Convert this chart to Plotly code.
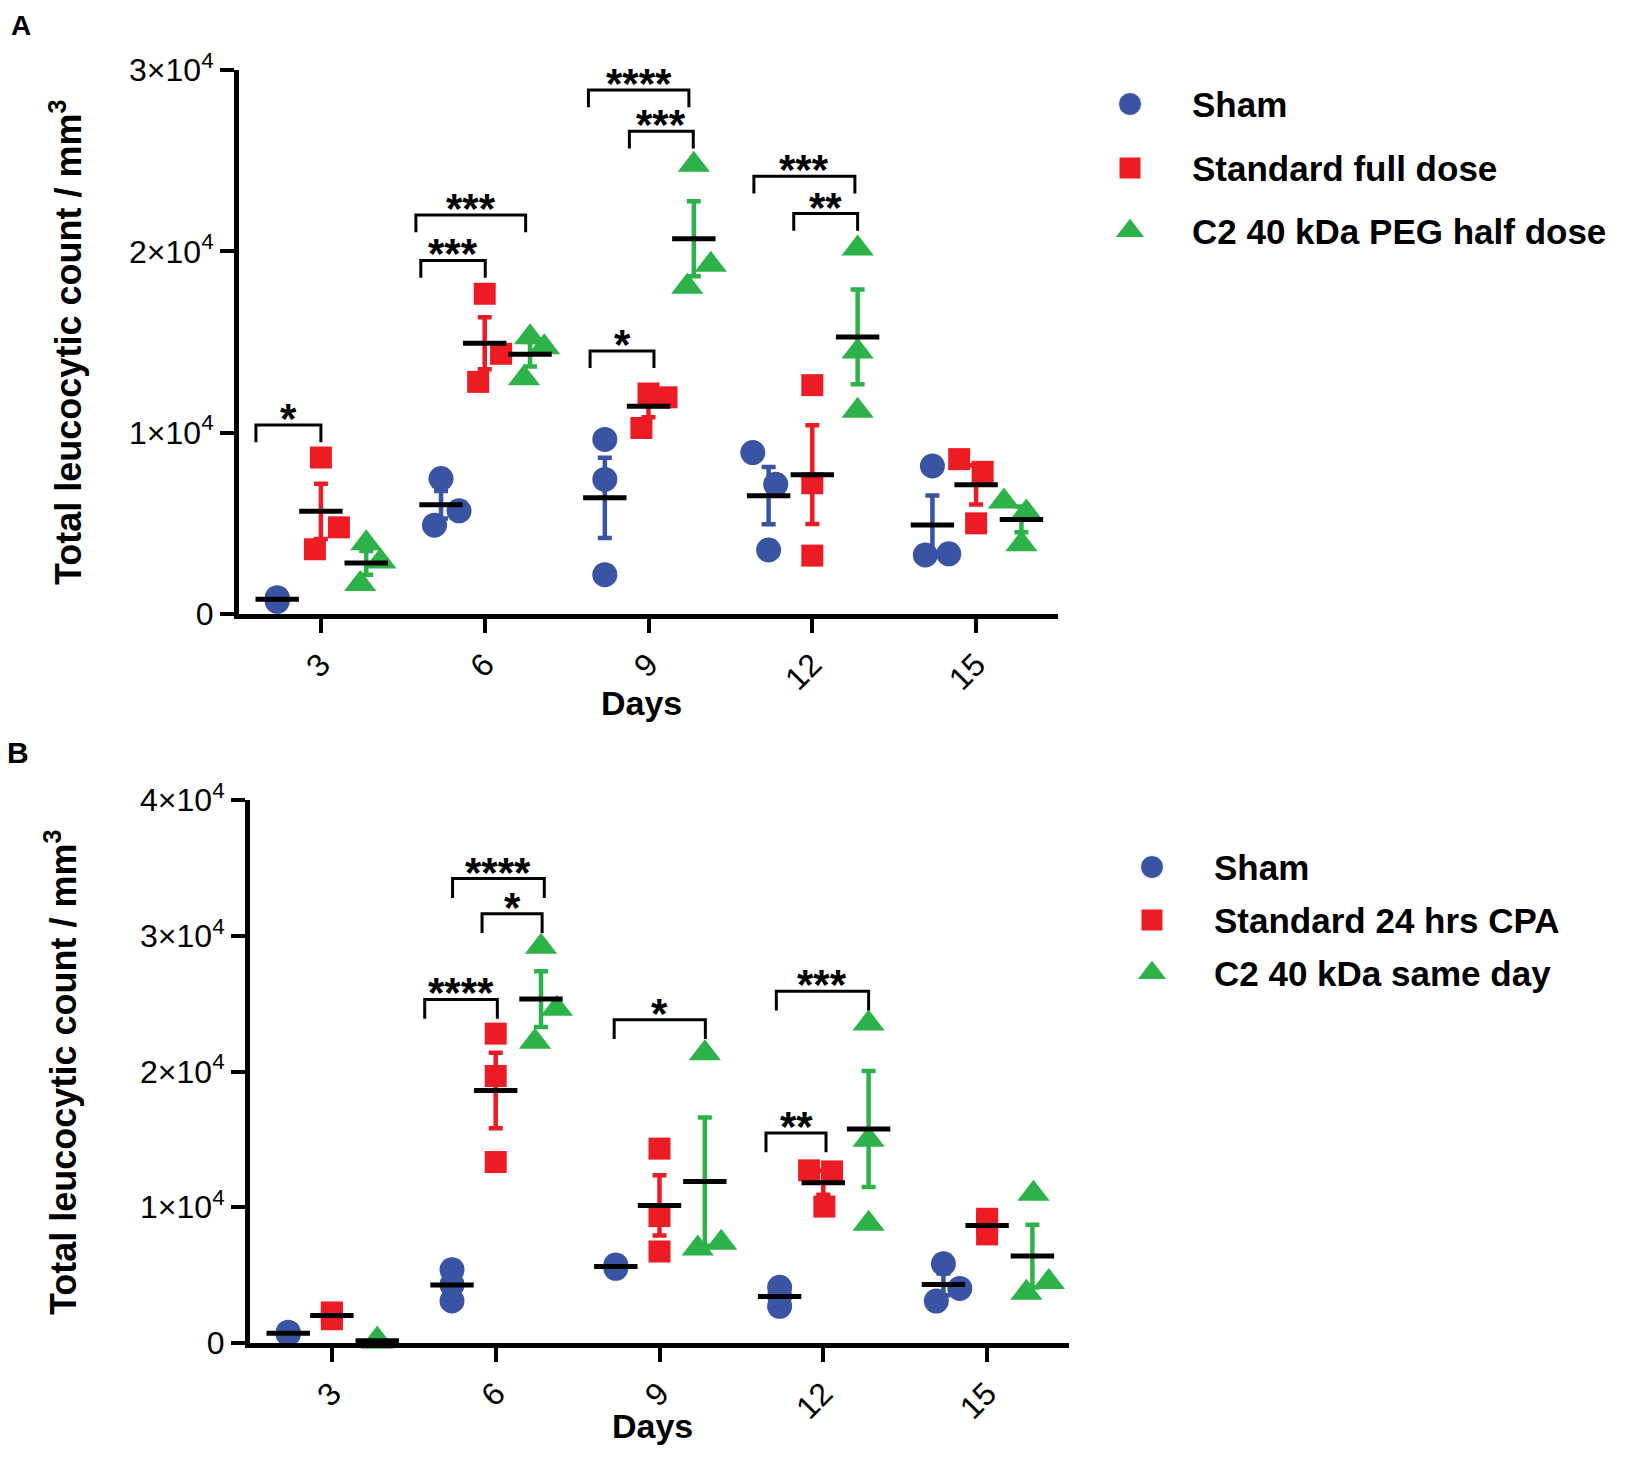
import numpy as np
import plotly.graph_objects as go

days = [3, 6, 9, 12, 15]

names_a = ["Sham", "Standard full dose", "C2 40 kDa PEG half dose"]
names_b = ["Sham", "Standard 24 hrs CPA", "C2 40 kDa same day"]

# panel A - total leucocytic count per mouse (3 per day)
a_sham = [[700, 850, 900], [7470, 5690, 4900], [9630, 7420, 2170], [8900, 7150, 3530], [8160, 3260, 3320]]
a_std = [[8630, 4780, 3570], [17660, 14350, 12800], [12160, 11950, 10260], [12620, 7210, 3220], [8540, 7840, 5000]]
a_c2 = [[3900, 2900, 1650], [15260, 14710, 13000], [24770, 19260, 18040], [20150, 14470, 11210], [6200, 5600, 3850]]

# panel B
b_sham = [[650, 700, 800], [5400, 4300, 3100], [5500, 5650, 5750], [4100, 3450, 2700], [5840, 4020, 3090]]
b_std = [[1750, 2050, 2250], [22790, 19670, 13330], [14320, 9350, 6740], [12720, 12640, 10050], [9150, 8800, 8000]]
b_c2 = [[100, 150, 250], [29190, 24620, 22200], [21340, 6960, 7380], [23530, 14970, 8790], [11000, 4500, 3700]]

# significance brackets: (x start, x end, height, stars)
sig_a = [(1.81, 3.0, 10420, "*"), (4.83, 6.01, 19500, "***"), (4.74, 6.75, 22000, "***"),
         (7.90, 9.74, 28900, "****"), (8.65, 9.82, 26620, "***"), (7.93, 9.10, 14510, "*"),
         (10.93, 12.78, 24140, "***"), (11.66, 12.83, 22080, "**")]
sig_b = [(4.70, 6.03, 25310, "****"), (5.21, 6.89, 34210, "****"), (5.75, 6.85, 31620, "*"),
         (8.17, 9.84, 23810, "*"), (11.14, 12.83, 25920, "***"), (10.95, 12.05, 15470, "**")]

yticks_a = [0, 10000, 20000, 30000]
yticks_b = [0, 10000, 20000, 30000, 40000]
yticktext_a = ["0", "1×10<sup>4</sup>", "2×10<sup>4</sup>", "3×10<sup>4</sup>"]
yticktext_b = ["0", "1×10<sup>4</sup>", "2×10<sup>4</sup>", "3×10<sup>4</sup>", "4×10<sup>4</sup>"]

# horizontal scatter of the single points inside a group (in days)
jit_a = [
    [[0, 0, 0], [0, 0.33, -0.12], [0, 0, 0], [-0.29, 0.13, 0], [0, -0.13, 0.30]],
    [[0, 0.33, -0.11], [0, 0.30, -0.12], [0, 0.33, -0.13], [0, 0, 0], [-0.31, 0.12, 0]],
    [[0, 0.26, -0.11], [0, 0.26, -0.11], [0, 0.31, -0.12], [0, 0, 0], [-0.32, 0.09, 0]],
]
jit_b = [
    [[0, 0, 0], [0, 0, 0], [0, 0, 0], [0, 0, 0], [0, 0.30, -0.13]],
    [[0, 0, 0], [0, 0, 0], [0, 0, 0], [-0.26, 0.16, 0.02], [0, 0, 0]],
    [[0, 0, 0], [0, 0.29, -0.11], [0, -0.13, 0.30], [0, 0, 0], [0.02, 0.30, -0.11]],
]

colors = ["#3A54A4", "#ED1C24", "#2DB24A"]
symbols = ["circle", "square", "triangle-up"]
sizes = [25, 22, 28]
offsets = [-0.8, 0, 0.83]
FONT = "Arial, Liberation Sans, sans-serif"

# the page body has an 8px margin; size the figure so the page is exactly the window
OX, OY = 8, 8
W, H = 1642, 1464


def dom_x(a, b):
    return [(a - OX) / W, (b - OX) / W]


def dom_y(top, bottom):
    return [1 - (bottom - OY) / H, 1 - (top - OY) / H]


fig = go.Figure()


def add_panel(groups, jitter, xa, ya):
    for g, vals in enumerate(groups):
        vals = np.array(vals, dtype=float)
        px, py = [], []
        for i, d in enumerate(days):
            for j, v in enumerate(vals[i]):
                px.append(d + offsets[g] + jitter[g][i][j])
                py.append(v)
        fig.add_trace(go.Scatter(
            x=px, y=py, mode="markers", xaxis=xa, yaxis=ya, cliponaxis=False,
            marker=dict(symbol=symbols[g], size=sizes[g], color=colors[g], opacity=1,
                        line=dict(width=0)),
            showlegend=False))
        means = vals.mean(axis=1)
        sem = vals.std(axis=1, ddof=1) / np.sqrt(vals.shape[1])
        fig.add_trace(go.Scatter(
            x=[d + offsets[g] for d in days], y=means, mode="markers",
            xaxis=xa, yaxis=ya, cliponaxis=False,
            marker=dict(symbol="line-ew", size=31, line=dict(width=5, color="black")),
            error_y=dict(type="data", array=sem, color=colors[g], thickness=4.5, width=7),
            showlegend=False))


add_panel([a_sham, a_std, a_c2], jit_a, "x", "y")
add_panel([b_sham, b_std, b_c2], jit_b, "x2", "y2")

# brackets with stars (short text boxes so stacked labels do not collide)
for sig, xr, yr, drop in [(sig_a, "x", "y", 950), (sig_b, "x2", "y2", 1420)]:
    for x0, x1, yb, lab in sig:
        fig.add_shape(type="path", xref=xr, yref=yr,
                      path=f"M{x0},{yb - drop} L{x0},{yb} L{x1},{yb} L{x1},{yb - drop}",
                      line=dict(color="black", width=3))
        fig.add_annotation(x=(x0 + x1) / 2, y=yb, xref=xr, yref=yr, text=lab,
                           showarrow=False, yanchor="bottom", yshift=-2,
                           height=30, valign="top",
                           font=dict(family=FONT, size=42, color="black", weight="bold"))

# legends, drawn on a pixel overlay
for names, lx, rows in [(names_a, 1130, [104, 168, 231]), (names_b, 1152, [867, 920, 973])]:
    fig.add_trace(go.Scatter(
        x=[lx] * 3, y=rows, mode="markers", xaxis="x3", yaxis="y3", cliponaxis=False,
        marker=dict(symbol=symbols, size=[23, 22, 26], color=colors, opacity=1),
        showlegend=False, hoverinfo="skip"))
    for name, ry in zip(names, rows):
        fig.add_annotation(x=lx + 60, y=ry, xref="x3", yref="y3", text=name, showarrow=False,
                           xanchor="left", yanchor="middle",
                           font=dict(family=FONT, size=35, color="black", weight="bold"))

title_font = dict(family=FONT, size=36, color="black", weight="bold")
ytitle = "Total leucocytic count / mm<sup>3</sup>"
for txt, x, y, ang, f, ya in [(ytitle, 66, 343, -90, title_font, "middle"),
                              (ytitle, 61, 1073, -90, title_font, "middle"),
                              ("Days", 641, 703, 0, dict(title_font, size=34), "middle"),
                              ("Days", 652, 1426, 0, dict(title_font, size=34), "middle"),
                              ("A", 21, OY, 0, dict(title_font, size=28), "top"),
                              ("B", 18, 752, 0, dict(title_font, size=30), "middle")]:
    fig.add_annotation(x=x, y=y, xref="x3", yref="y3", text=txt, textangle=ang,
                       showarrow=False, xanchor="center", yanchor=ya, font=f)

axis_style = dict(showline=True, linewidth=5, linecolor="black", ticks="outside",
                  ticklen=14, tickwidth=4, tickcolor="black", showgrid=False, zeroline=False,
                  tickfont=dict(family=FONT, size=32, color="black"), fixedrange=True)

fig.update_layout(
    width=W, height=H,
    margin=dict(l=0, r=0, t=0, b=0, autoexpand=False),
    plot_bgcolor="rgba(0,0,0,0)", paper_bgcolor="white",
    showlegend=False,
    xaxis=dict(axis_style, domain=dom_x(239, 1058), range=[1.5, 16.5], anchor="y",
               tickvals=days, tickangle=-45),
    yaxis=dict(axis_style, domain=dom_y(70, 614), range=[0, 30000], anchor="x",
               tickvals=yticks_a, ticktext=yticktext_a),
    xaxis2=dict(axis_style, domain=dom_x(250, 1069), range=[1.5, 16.5], anchor="y2",
                tickvals=days, tickangle=-45),
    yaxis2=dict(axis_style, domain=dom_y(800, 1343), range=[0, 40000], anchor="x2",
                tickvals=yticks_b, ticktext=yticktext_b),
    xaxis3=dict(domain=[0, 1], range=[OX, OX + W], visible=False, anchor="y3", fixedrange=True),
    yaxis3=dict(domain=[0, 1], range=[OY + H, OY], visible=False, anchor="x3", fixedrange=True),
)

fig.write_html("out.html")
